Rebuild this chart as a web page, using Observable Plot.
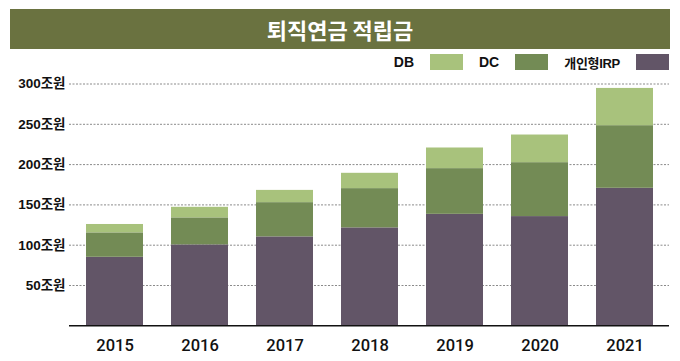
<!DOCTYPE html>
<html><head><meta charset="utf-8">
<script src="https://cdn.jsdelivr.net/npm/d3@7"></script>
<script src="https://cdn.jsdelivr.net/npm/@observablehq/plot@0.6"></script>
<style>
body{margin:0;background:#fff;font-family:"Liberation Sans","Noto Sans CJK KR",sans-serif;}
#wrap{width:680px;height:361px;position:relative;overflow:hidden;}
#title{margin:9px 10px 0 10px;height:40px;background:#6a7240;color:#fff;font-family:"Noto Sans CJK KR",sans-serif;font-weight:700;font-size:22px;line-height:40px;text-align:center;}
#legend{height:26px;display:flex;justify-content:flex-end;align-items:center;padding-right:11px;font-size:14px;font-weight:700;color:#111;}
#legend .lab{margin-left:16px;margin-right:16px;}
#legend .lab.k{font-size:13px;letter-spacing:-0.3px}
#legend .sw{width:33px;height:16px;display:inline-block;}
</style></head>
<body><div id="wrap"><div id="title">퇴직연금 적립금</div><div id="legend"></div><div id="chart"></div></div>
<script>
const years = ["2015","2016","2017","2018","2019","2020","2021"];
const irp = [85, 100.4, 110.3, 121.5, 138.3, 135.5, 170.6];
const dc = [30.3, 33.5, 42.5, 48.7, 56.7, 66.9, 77.7];
const db = [10.4, 13.1, 15.2, 19.0, 25.6, 34.3, 46.2];
const seriesNames = ["DB","DC","개인형IRP"];
const seriesColors = ["#a8c27c","#738b55","#625567"];
const yTicks = [50,100,150,200,250,300];

const rows = [];
years.forEach((y,i)=>{
  rows.push({year:y, series:"개인형IRP", value:irp[i]});
  rows.push({year:y, series:"DC", value:dc[i]});
  rows.push({year:y, series:"DB", value:db[i]});
});

const leg = document.getElementById("legend");
seriesNames.forEach((n,i)=>{
  const l=document.createElement("span"); l.className="lab"+(i==2?" k":""); l.textContent=n; leg.appendChild(l);
  const s=document.createElement("span"); s.className="sw"; s.style.background=seriesColors[i]; leg.appendChild(s);
});

const chart = Plot.plot({
  width:680, height:286,
  marginLeft:69, marginRight:11, marginTop:8.5, marginBottom:35.7,
  style:{fontFamily:'"Liberation Sans","Noto Sans CJK KR",sans-serif', color:"#111", background:"transparent"},
  x:{domain:years, paddingInner:0.335, paddingOuter:0.1675, label:null},
  y:{domain:[0,300], label:null},
  color:{domain:seriesNames, range:seriesColors},
  marks:[
    Plot.ruleY(yTicks,{stroke:"#8a8a8a", strokeWidth:1, strokeDasharray:"2,1.5"}),
    Plot.barY(rows, Plot.stackY({order:["개인형IRP","DC","DB"]},{x:"year", y:"value", z:"series", fill:"series"})),
    Plot.ruleY([0],{stroke:"#111", strokeWidth:1.5}),
    Plot.axisX({tickSize:0, tickPadding:13, fontSize:16.5, fontWeight:500, fontFamily:"Roboto, 'Liberation Sans', sans-serif", label:null}),
    Plot.axisY({ticks:yTicks, tickSize:0, tickPadding:4, fontSize:13.5, fontWeight:700, label:null, tickFormat:d=>d+"조원"})
  ]
});
document.getElementById("chart").appendChild(chart);
</script></body></html>
